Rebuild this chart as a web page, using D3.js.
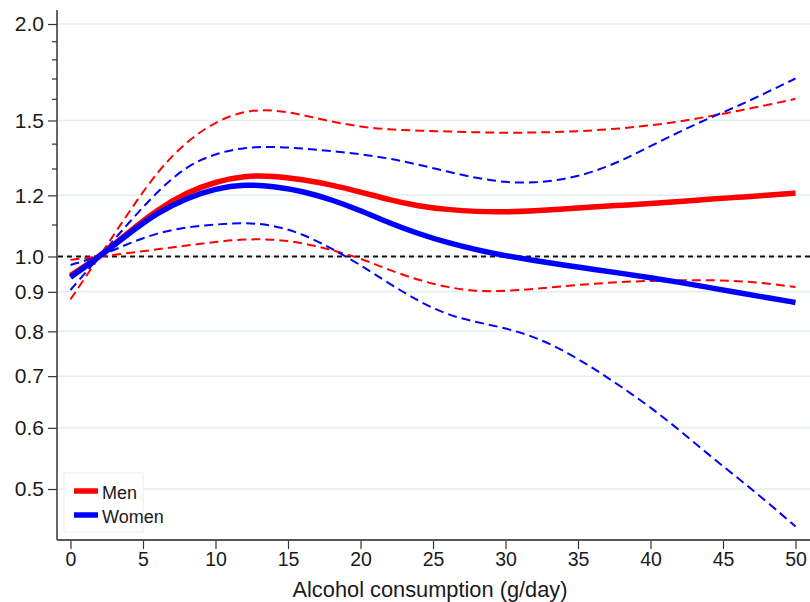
<!DOCTYPE html>
<html>
<head>
<meta charset="utf-8">
<script src="https://cdn.jsdelivr.net/npm/d3@7"></script>
<style>
  body { margin: 0; background: #fff; }
  svg { font-family: "Liberation Sans", Arial, sans-serif; }
</style>
</head>
<body>
<script>
'use strict';
(function () {
  // alcohol intake grid (g/day)
  let dose = [0, 2, 4, 6, 8, 10, 12, 14, 16, 18, 20, 22, 24, 26, 28, 30, 32, 34, 36, 38, 40, 42, 44, 46, 48, 50];

  let menFit = [0.945, 1.0, 1.075, 1.15, 1.21, 1.25, 1.272, 1.272, 1.258, 1.238, 1.212, 1.184, 1.162, 1.15, 1.143, 1.142, 1.146, 1.152, 1.159, 1.165, 1.171, 1.178, 1.186, 1.193, 1.2, 1.208];
  let menUpper = [0.88, 1.0, 1.14, 1.29, 1.41, 1.495, 1.545, 1.55, 1.525, 1.495, 1.472, 1.46, 1.455, 1.452, 1.448, 1.446, 1.447, 1.45, 1.456, 1.465, 1.478, 1.495, 1.518, 1.543, 1.57, 1.6];
  let menLower = [0.99, 1.0, 1.01, 1.022, 1.033, 1.045, 1.053, 1.053, 1.042, 1.02, 0.995, 0.96, 0.932, 0.912, 0.901, 0.902, 0.908, 0.915, 0.922, 0.927, 0.93, 0.932, 0.932, 0.93, 0.923, 0.913];

  let womenFit = [0.94, 1.0, 1.07, 1.14, 1.19, 1.225, 1.24, 1.233, 1.215, 1.185, 1.147, 1.105, 1.07, 1.042, 1.02, 1.002, 0.988, 0.975, 0.963, 0.951, 0.939, 0.926, 0.912, 0.898, 0.885, 0.872];
  let womenUpper = [0.905, 1.0, 1.105, 1.215, 1.31, 1.36, 1.385, 1.388, 1.38, 1.37, 1.357, 1.34, 1.315, 1.288, 1.263, 1.247, 1.245, 1.258, 1.285, 1.33, 1.39, 1.45, 1.51, 1.565, 1.63, 1.7];
  let womenLower = [0.975, 1.0, 1.04, 1.073, 1.092, 1.1, 1.107, 1.098, 1.07, 1.025, 0.975, 0.922, 0.875, 0.84, 0.822, 0.808, 0.787, 0.756, 0.718, 0.678, 0.638, 0.596, 0.554, 0.517, 0.482, 0.447];

  let xTicks = [0, 5, 10, 15, 20, 25, 30, 35, 40, 45, 50];
  let yTicks = [0.5, 0.6, 0.7, 0.8, 0.9, 1.0, 1.2, 1.5, 2.0];
  let yMinorTicks = [1.1, 1.3, 1.4, 1.6, 1.7, 1.8, 1.9];
  let legendLabels = ["Men", "Women"];
  let xTitle = "Alcohol consumption (g/day)";

  let width = 810, height = 602;
  let left = 57, bottom = 540, top = 10;

  let svg = d3.select('body')
    .append('svg')
    .attr('width', width)
    .attr('height', height);

  let x = d3.scaleLinear().domain([0, 50]).range([70.5, 795.5]);
  let y = d3.scaleLog().domain([0.5, 2]).range([489, 24]);

  // gridlines
  svg.append('g')
    .selectAll('line')
    .data(yTicks)
    .enter()
    .append('line')
    .attr('x1', left + 1)
    .attr('x2', width)
    .attr('y1', (d) => y(d))
    .attr('y2', (d) => y(d))
    .attr('stroke', '#e3ecee')
    .attr('stroke-width', 1.5);

  // reference line at 1
  svg.append('line')
    .attr('x1', left + 1)
    .attr('x2', width)
    .attr('y1', y(1))
    .attr('y2', y(1))
    .attr('stroke', '#111')
    .attr('stroke-width', 2)
    .attr('stroke-dasharray', '5,4');

  let line = (vals) => d3.line()
    .x((d, i) => x(dose[i]))
    .y((d) => y(d))
    .curve(d3.curveBasis)(vals);

  function drawCurve(vals, color, w, dash) {
    svg.append('path')
      .attr('d', line(vals))
      .attr('fill', 'none')
      .attr('stroke', color)
      .attr('stroke-width', w)
      .attr('stroke-dasharray', dash);
  }

  let red = '#ff0000', blue = '#0000ff';
  drawCurve(menUpper, red, 2, '9,5');
  drawCurve(menLower, red, 2, '9,5');
  drawCurve(womenUpper, blue, 2, '9,5');
  drawCurve(womenLower, blue, 2, '9,5');
  drawCurve(menFit, red, 5.5, null);
  drawCurve(womenFit, blue, 5.5, null);

  // y axis
  let yAxis = d3.axisLeft(y)
    .tickValues(yTicks)
    .tickSize(9)
    .tickPadding(4)
    .tickFormat(d3.format('.1f'));
  let gy = svg.append('g')
    .attr('transform', 'translate(' + left + ',0)')
    .call(yAxis);
  gy.select('.domain').remove();
  gy.selectAll('line').attr('stroke', '#333').attr('stroke-width', 1.2);
  gy.selectAll('text').attr('font-size', 21).attr('fill', '#1a1a1a')
    .attr('font-family', '"Liberation Sans", Arial, sans-serif');

  let gyMinor = svg.append('g')
    .attr('transform', 'translate(' + left + ',0)')
    .call(d3.axisLeft(y).tickValues(yMinorTicks).tickSize(5).tickFormat(''));
  gyMinor.select('.domain').remove();
  gyMinor.selectAll('line').attr('stroke', '#333').attr('stroke-width', 1.2);

  svg.append('line')
    .attr('x1', left).attr('x2', left)
    .attr('y1', top).attr('y2', bottom)
    .attr('stroke', '#333').attr('stroke-width', 1.5);

  // x axis
  let gx = svg.append('g')
    .attr('transform', 'translate(0,' + bottom + ')')
    .call(d3.axisBottom(x).tickValues(xTicks).tickSize(9).tickPadding(3));
  gx.select('.domain').remove();
  gx.selectAll('line').attr('stroke', '#333').attr('stroke-width', 1.2);
  gx.selectAll('text').attr('font-size', 19.5).attr('fill', '#1a1a1a')
    .attr('font-family', '"Liberation Sans", Arial, sans-serif');

  svg.append('line')
    .attr('x1', left).attr('x2', width)
    .attr('y1', bottom).attr('y2', bottom)
    .attr('stroke', '#555').attr('stroke-width', 2);

  svg.append('text')
    .attr('x', 430)
    .attr('y', 597)
    .attr('text-anchor', 'middle')
    .style('font-size', '21.8px')
    .attr('fill', '#1a1a1a')
    .text(xTitle);

  // legend
  let legend = svg.append('g');
  legend.append('rect')
    .attr('x', 64).attr('y', 473)
    .attr('width', 79).attr('height', 59)
    .attr('fill', '#fff')
    .attr('stroke', '#ececec')
    .attr('stroke-width', 1);
  legend.selectAll('line.key')
    .data(legendLabels)
    .enter()
    .append('line')
    .attr('class', 'key')
    .attr('x1', 74).attr('x2', 98)
    .attr('y1', (d, i) => 491 + i * 24)
    .attr('y2', (d, i) => 491 + i * 24)
    .attr('stroke', (d, i) => i == 0 ? red : blue)
    .attr('stroke-width', 5.5);
  legend.selectAll('text')
    .data(legendLabels)
    .enter()
    .append('text')
    .attr('x', 102)
    .attr('y', (d, i) => 498.5 + i * 24)
    .style('font-size', '18px')
    .attr('fill', '#1a1a1a')
    .text((d) => d);
})();
</script>
</body>
</html>
